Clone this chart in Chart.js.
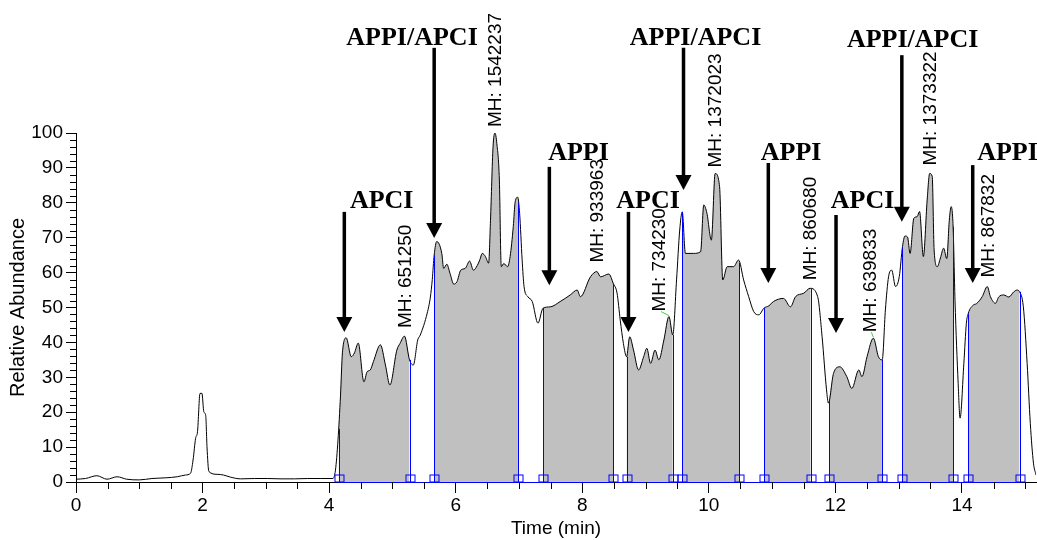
<!DOCTYPE html>
<html>
<head>
<meta charset="utf-8">
<title>TIC</title>
<script src="https://cdn.jsdelivr.net/npm/chart.js@4.4.0/dist/chart.umd.min.js"></script>
<style>
  html, body { margin: 0; padding: 0; background: #fff; }
  canvas { display: block; }
</style>
</head>
<body>
<canvas id="tic" width="1037" height="540"></canvas>
<script>
// total ion trace: retention time (min) / relative abundance (%)
const times = [
  0.00, 0.15, 0.33, 0.49, 0.65, 0.80, 1.00, 1.20, 1.42, 1.60, 1.73, 1.81, 1.85, 1.89, 1.92, 1.96, 1.99, 2.02, 2.05, 2.07,
  2.10, 2.23, 2.33, 2.44, 2.60, 2.82, 3.03, 3.24, 3.45, 3.66, 3.87, 4.06, 4.10, 4.14, 4.18, 4.21, 4.27, 4.35, 4.40, 4.46,
  4.55, 4.60, 4.65, 4.70, 4.81, 4.89, 4.96, 5.07, 5.12, 5.19, 5.27, 5.33, 5.40, 5.44, 5.55, 5.60, 5.63, 5.66, 5.70, 5.78,
  5.81, 5.86, 5.91, 5.97, 6.02, 6.08, 6.15, 6.22, 6.28, 6.34, 6.38, 6.42, 6.47, 6.52, 6.55, 6.59, 6.62, 6.65, 6.69, 6.72,
  6.76, 6.82, 6.86, 6.91, 6.94, 6.98, 7.01, 7.05, 7.08, 7.14, 7.21, 7.30, 7.38, 7.50, 7.65, 7.81, 7.92, 7.97, 8.13, 8.23,
  8.29, 8.42, 8.49, 8.55, 8.60, 8.65, 8.70, 8.75, 8.81, 8.89, 8.97, 9.02, 9.08, 9.15, 9.21, 9.29, 9.37, 9.43, 9.49, 9.54,
  9.58, 9.63, 9.76, 9.87, 9.92, 9.97, 10.04, 10.10, 10.17, 10.22, 10.29, 10.39, 10.47, 10.55, 10.63, 10.71, 10.79, 10.87, 10.95, 11.02,
  11.18, 11.29, 11.37, 11.50, 11.60, 11.72, 11.79, 11.86, 11.89, 11.97, 12.07, 12.18, 12.26, 12.37, 12.42, 12.50, 12.60, 12.68, 12.74, 12.79,
  12.84, 12.89, 12.95, 13.01, 13.06, 13.10, 13.14, 13.18, 13.24, 13.29, 13.33, 13.39, 13.45, 13.49, 13.53, 13.56, 13.61, 13.66, 13.71, 13.76,
  13.80, 13.83, 13.86, 13.89, 13.94, 13.97, 14.03, 14.07, 14.10, 14.18, 14.23, 14.32, 14.40, 14.45, 14.53, 14.58, 14.66, 14.74, 14.82, 14.87,
  14.91, 14.97, 15.03, 15.08, 15.13, 15.17
];
const abundance = [
  0.8, 1.0, 1.8, 0.8, 1.5, 0.8, 0.6, 1.0, 1.2, 1.5, 2.0, 2.5, 6.3, 12.5, 14.4, 25.4, 25.4, 20.1, 19.0, 10.1,
  3.0, 2.2, 2.0, 1.4, 0.9, 1.0, 1.0, 0.9, 0.9, 1.0, 1.0, 1.0, 3.4, 12.0, 24.9, 37.0, 41.3, 35.9, 37.0, 39.8,
  28.7, 31.6, 32.1, 34.5, 39.3, 33.5, 27.8, 37.8, 39.7, 41.8, 35.0, 33.5, 40.7, 42.1, 48.4, 53.0, 58.0, 65.0, 68.9, 65.5,
  61.2, 62.4, 59.8, 56.7, 57.4, 60.7, 61.2, 63.3, 60.7, 62.0, 63.6, 65.5, 64.6, 62.7, 75.0, 96.0, 100.0, 97.0, 86.5, 61.7,
  62.6, 61.7, 64.6, 73.2, 80.3, 81.6, 77.0, 63.6, 56.0, 53.1, 51.7, 45.5, 49.8, 50.2, 51.7, 53.6, 55.0, 53.1, 58.8, 60.3,
  58.8, 59.6, 56.9, 54.1, 46.4, 39.7, 35.9, 41.6, 37.8, 32.1, 35.9, 38.3, 34.0, 37.8, 35.0, 40.7, 47.4, 42.1, 57.9, 72.2,
  77.4, 65.5, 65.5, 66.0, 79.4, 77.0, 69.3, 88.4, 84.6, 57.9, 61.7, 61.7, 63.6, 57.9, 53.1, 48.8, 47.9, 49.8, 50.5, 51.7,
  52.6, 50.2, 53.1, 54.1, 55.5, 53.1, 41.6, 26.4, 22.6, 31.1, 33.0, 30.2, 26.8, 32.1, 30.2, 35.9, 41.2, 35.9, 35.0, 49.3,
  58.8, 60.7, 56.0, 58.9, 67.4, 70.5, 70.2, 65.5, 75.6, 76.0, 77.5, 64.6, 80.8, 88.4, 87.6, 66.5, 61.7, 64.2, 67.0, 64.0,
  75.0, 78.9, 73.2, 52.1, 28.3, 18.3, 34.0, 45.5, 48.3, 50.7, 51.1, 53.1, 56.0, 53.1, 51.2, 53.0, 53.6, 53.0, 54.5, 55.0,
  54.5, 50.2, 34.0, 16.8, 5.4, 2.0
];

// integration windows (min) and their peak heights
const windowStarts = [4.15, 5.66, 7.38, 8.70, 9.58, 10.87, 11.90, 13.06, 14.10];
const windowEnds   = [5.27, 6.99, 8.49, 9.43, 10.48, 11.61, 12.74, 13.86, 14.91];
const peakHeights  = [651250, 1542237, 933963, 734230, 1372023, 860680, 639833, 1373322, 867832];

// ionisation source switched on at each arrow
const sourceNames = ['APCI', 'APPI/APCI', 'APPI', 'APCI', 'APPI/APCI', 'APPI', 'APCI', 'APPI/APCI', 'APPI'];

const xMajorTicks = [0, 2, 4, 6, 8, 10, 12, 14];
const yMajorTicks = [0, 10, 20, 30, 40, 50, 60, 70, 80, 90, 100];
const xMinorStep = 0.5;
const yMinorStep = 2;
const xMax = 15.17;

// arrow placement, in axis units (time, abundance)
const arrowLayout = [
  { t: 4.24,  tip: 43.0, tail: 77.4,  textT: 4.83,  textV: 78.5 },
  { t: 5.66,  tip: 69.9, tail: 124.4, textT: 5.31,  textV: 125.2 },
  { t: 7.48,  tip: 56.4, tail: 90.3,  textT: 7.94,  textV: 92.3 },
  { t: 8.73,  tip: 43.0, tail: 77.4,  textT: 9.04,  textV: 78.5 },
  { t: 9.60,  tip: 83.7, tail: 124.4, textT: 9.79,  textV: 125.2 },
  { t: 10.94, tip: 57.0, tail: 91.4,  textT: 11.30, textV: 92.3 },
  { t: 12.01, tip: 42.7, tail: 76.5,  textT: 12.43, textV: 78.5 },
  { t: 13.05, tip: 74.6, tail: 122.3, textT: 13.22, textV: 124.7 },
  { t: 14.17, tip: 57.0, tail: 90.8,  textT: 14.72, textV: 92.3 }
];
// pixel nudges for peak labels that had to move aside (dx, gap above apex)
const labelNudge = [[0, 8], [0, 6], [0, 9], [-10, 5], [0, 6], [0, 8], [-4, 6], [0, 8], [0, 9]];

const SANS = '"Liberation Sans", Arial, sans-serif';
const SERIF = '"Liberation Serif", "Times New Roman", serif';

function valueAt(t) {
  for (let i = 1; i < times.length; i++) {
    if (times[i] >= t) {
      const f = (t - times[i - 1]) / (times[i] - times[i - 1]);
      return abundance[i - 1] + f * (abundance[i] - abundance[i - 1]);
    }
  }
  return abundance[abundance.length - 1];
}

function apexOf(s, e) {
  let best = { x: s, y: valueAt(s) };
  times.forEach((t, i) => {
    if (t >= s && t <= e && abundance[i] > best.y) best = { x: t, y: abundance[i] };
  });
  return best;
}

const tracePoints = times.map((t, i) => ({ x: t, y: abundance[i] }));

const windowSets = windowStarts.map((s, k) => {
  const e = windowEnds[k];
  const pts = [{ x: s, y: valueAt(s) }];
  times.forEach((t, i) => { if (t > s && t < e) pts.push({ x: t, y: abundance[i] }); });
  pts.push({ x: e, y: valueAt(e) });
  return {
    data: pts,
    fill: 'origin',
    backgroundColor: '#c0c0c0',
    borderWidth: 0,
    pointRadius: 0,
    cubicInterpolationMode: 'monotone',
    order: 2
  };
});

// windows, peak labels, minor ticks and source arrows
const decorPlugin = {
  id: 'decor',
  afterDatasetsDraw(chart) {
    const { ctx, scales: { x, y } } = chart;
    const y0 = y.getPixelForValue(0);
    ctx.save();
    ctx.strokeStyle = '#0000ff';
    ctx.lineWidth = 1;
    windowStarts.forEach((s, k) => {
      [s, windowEnds[k]].forEach(t => {
        const px = Math.round(x.getPixelForValue(t)) + 0.5;
        ctx.beginPath();
        ctx.moveTo(px, y0);
        ctx.lineTo(px, y.getPixelForValue(valueAt(t)));
        ctx.stroke();
        ctx.strokeRect(px - 4.5, y0 - 7, 9, 7);
      });
    });
    ctx.beginPath();
    ctx.moveTo(x.getPixelForValue(windowStarts[0]), y0 + 0.5);
    ctx.lineTo(x.getPixelForValue(windowEnds[windowEnds.length - 1]), y0 + 0.5);
    ctx.stroke();
    ctx.restore();
  },
  afterDraw(chart) {
    const { ctx, scales: { x, y } } = chart;
    const x0 = x.left, y0 = y.bottom;
    ctx.save();
    ctx.strokeStyle = '#000';
    ctx.lineWidth = 1;
    // minor ticks
    for (let v = 0; v <= xMax + 1e-9; v += xMinorStep) {
      if (xMajorTicks.some(m => Math.abs(m - v) < 1e-6)) continue;
      const px = Math.round(x.getPixelForValue(v)) + 0.5;
      ctx.beginPath(); ctx.moveTo(px, y0); ctx.lineTo(px, y0 + 7); ctx.stroke();
    }
    for (let v = 0; v <= 100 + 1e-9; v += yMinorStep) {
      if (yMajorTicks.some(m => Math.abs(m - v) < 1e-6)) continue;
      const py = Math.round(y.getPixelForValue(v)) + 0.5;
      ctx.beginPath(); ctx.moveTo(x0, py); ctx.lineTo(x0 - 6, py); ctx.stroke();
    }

    // peak height labels
    ctx.fillStyle = '#000';
    ctx.font = '19px ' + SANS;
    ctx.textAlign = 'left';
    ctx.textBaseline = 'middle';
    windowStarts.forEach((s, k) => {
      const apex = apexOf(s, windowEnds[k]);
      const ax = x.getPixelForValue(apex.x), ay = y.getPixelForValue(apex.y);
      const lx = ax + labelNudge[k][0], ly = ay - labelNudge[k][1];
      if (labelNudge[k][0] !== 0) {
        ctx.save();
        ctx.strokeStyle = '#44cc44';
        ctx.beginPath(); ctx.moveTo(lx + 2, ly); ctx.lineTo(ax, ay - 1); ctx.stroke();
        ctx.restore();
      }
      ctx.save();
      ctx.translate(lx, ly);
      ctx.rotate(-Math.PI / 2);
      ctx.fillText('MH: ' + peakHeights[k], 0, 1);
      ctx.restore();
    });

    // source arrows
    ctx.font = 'bold 26px ' + SERIF;
    ctx.textAlign = 'center';
    ctx.textBaseline = 'alphabetic';
    arrowLayout.forEach((a, k) => {
      const ax = x.getPixelForValue(a.t);
      const tipY = y.getPixelForValue(a.tip);
      const tailY = y.getPixelForValue(a.tail);
      ctx.fillText(sourceNames[k], x.getPixelForValue(a.textT), y.getPixelForValue(a.textV));
      ctx.lineWidth = 3.5;
      ctx.beginPath(); ctx.moveTo(ax, tailY); ctx.lineTo(ax, tipY - 14); ctx.stroke();
      ctx.beginPath();
      ctx.moveTo(ax - 8, tipY - 15);
      ctx.lineTo(ax + 8, tipY - 15);
      ctx.lineTo(ax, tipY);
      ctx.closePath();
      ctx.fill();
    });
    ctx.restore();
  }
};

new Chart(document.getElementById('tic'), {
  type: 'line',
  data: {
    datasets: [{
      data: tracePoints,
      borderColor: '#000',
      borderWidth: 1,
      pointRadius: 0,
      fill: false,
      cubicInterpolationMode: 'monotone',
      order: 1
    }].concat(windowSets)
  },
  options: {
    responsive: false,
    animation: false,
    layout: { padding: { top: 133, right: 1, left: 0, bottom: 0 } },
    plugins: { legend: { display: false }, tooltip: { enabled: false } },
    scales: {
      x: {
        type: 'linear',
        min: 0,
        max: xMax,
        afterBuildTicks: s => { s.ticks = xMajorTicks.map(v => ({ value: v })); },
        afterFit: s => { s.height = 58; },
        grid: { drawOnChartArea: false, tickLength: 11, tickColor: '#000' },
        border: { color: '#000', width: 1 },
        ticks: { color: '#000', font: { family: SANS, size: 19 }, padding: 1, maxRotation: 0 },
        title: { display: true, text: 'Time (min)', color: '#000', font: { family: SANS, size: 19 }, padding: { top: 0, bottom: 0 } }
      },
      y: {
        min: 0,
        max: 100,
        afterBuildTicks: s => { s.ticks = yMajorTicks.map(v => ({ value: v })); },
        afterFit: s => { s.width = 76; },
        grid: { drawOnChartArea: false, tickLength: 10, tickColor: '#000' },
        border: { color: '#000', width: 1 },
        ticks: { color: '#000', font: { family: SANS, size: 19 }, padding: 3 },
        title: { display: true, text: 'Relative Abundance', color: '#000', font: { family: SANS, size: 20 }, padding: { top: 6, bottom: 0 } }
      }
    }
  },
  plugins: [decorPlugin]
});
</script>
</body>
</html>
